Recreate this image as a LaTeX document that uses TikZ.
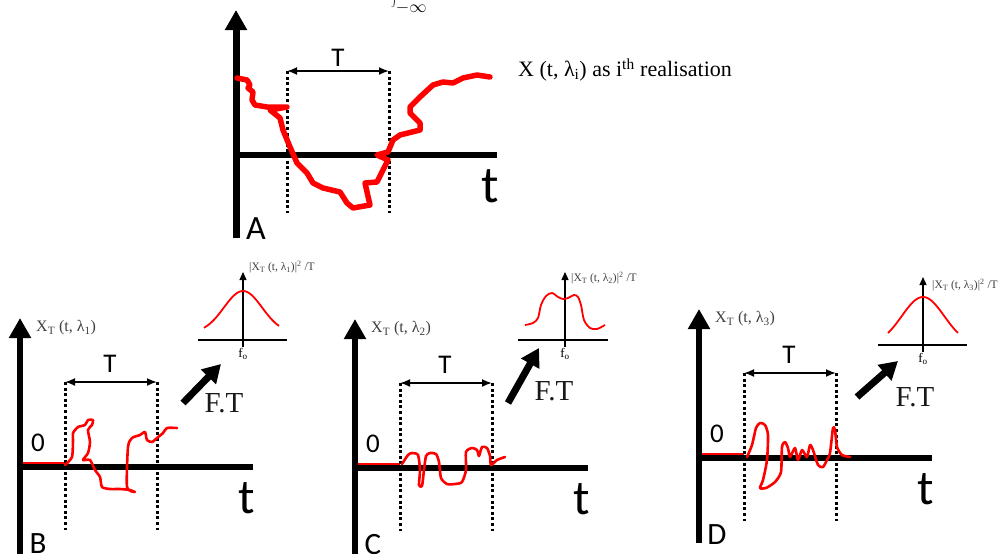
\documentclass[tikz,border=0pt]{standalone}
\usepackage{fontspec}
\setmainfont{Liberation Serif}
\newfontfamily\calfont{Carlito}
\usetikzlibrary{arrows.meta}

\begin{document}
\begin{tikzpicture}[x=1pt,y=-1pt,>=Latex,
  axis/.style={line width=6pt,-{Triangle[width=21pt,length=20pt]}},
  taxis/.style={line width=6pt},
  window/.style={line width=3pt,dash pattern=on 3pt off 2.6pt},
  tdim/.style={line width=1.8pt,{Latex[length=10pt,width=8pt]}-{Latex[length=10pt,width=8pt]}},
  sig/.style={red,line width=2.6pt,line join=round,line cap=round},
  ftarrow/.style={line width=7pt,-{Triangle[width=20pt,length=18pt]}},
  spec/.style={line width=1.2pt},
  specaxis/.style={line width=1.2pt,-{Triangle[width=7pt,length=8pt]}},
  speccurve/.style={red,line width=1.8pt,line join=round},
  lbl/.style={font=\calfont\fontsize{27}{27}\selectfont,inner sep=0pt},
  letter/.style={font=\calfont\fontsize{31}{31}\selectfont,inner sep=0pt},
  tlbl/.style={font=\calfont\fontsize{49}{49}\selectfont,inner sep=0pt},
  xlbl/.style={font=\fontsize{16}{16}\selectfont,text=black!75,inner sep=0pt,anchor=west},
  slbl/.style={font=\fontsize{11.5}{11.5}\selectfont,text=black!75,inner sep=0pt,anchor=west},
  ftlbl/.style={font=\fontsize{29}{29}\selectfont,text=black!90,inner sep=0pt},
  flbl/.style={font=\fontsize{13}{13}\selectfont,inner sep=0pt}]
  \useasboundingbox (0,0) rectangle (999,554);

  % cut-off formula at the top
  \node[anchor=south west,inner sep=0pt] (frag) at (391,14) {\fontsize{24}{24}\selectfont$\int_{-\infty}$};

  % Panel A: one realisation
  \coordinate (A-o) at (236,155);
  \coordinate (A-top) at (236,10);
  \coordinate (A-bot) at (236,238);
  \coordinate (A-end) at (497,155);
  \coordinate (A-w1) at (287,71);
  \coordinate (A-w2) at (389,71);
  \coordinate (A-w1b) at (287,213);
  \coordinate (A-w2b) at (389,213);
  \draw[axis,line width=7pt] (A-bot) -- (A-top);
  \draw[taxis] (A-o) -- (A-end);
  \draw[window] (A-w1) -- (A-w1b);
  \draw[window] (A-w2) -- (A-w2b);
  \draw[tdim] (A-w1) -- (A-w2);
  \node[lbl] (A-T) at (338,58) {T};
  \node[tlbl,font=\calfont\fontsize{52}{52}\selectfont] (A-t) at (490,186) {t};
  \node[letter,font=\calfont\fontsize{34}{34}\selectfont] (A-name) at (256,229) {A};
  \node[anchor=west,inner sep=0pt,font=\fontsize{22}{22}\selectfont] (A-lab) at (518,70)
    {X (t, λ\textsubscript{i}) as i\textsuperscript{th} realisation};
  \draw[sig,line width=5.5pt] plot coordinates {(237,78) (247,80) (250,85) (248,88) (253,92) (252,100)
    (255,105) (267,107) (287,107) (270,110) (280,118) (283,130) (290,147) (297,163) (307,173)
    (313,183) (323,188) (340,192) (347,203) (353,208) (370,205) (365,183) (377,182) (383,170)
    (388,160) (377,155) (388,152) (393,140) (400,135) (420,130) (420,123) (410,113) (410,107)
    (420,97) (433,85) (443,82) (453,83) (463,78) (477,75) (490,77)};

  % Panels B, C, D: truncated realisations
  \foreach \p/\ox/\oy/\k/\bot in {B/20/467/1/87,C/355/468/2/87,D/699/458/3/85}{
    \begin{scope}[shift={(\ox,\oy)}]
      \coordinate (\p-o) at (0,0);
      \coordinate (\p-top) at (0,-149);
      \coordinate (\p-bot) at (0,\bot);
      \coordinate (\p-end) at (233,0);
      \coordinate (\p-zs) at (0,-4);
      \coordinate (\p-z) at (45,-4);
      \coordinate (\p-w1) at (45,-85);
      \coordinate (\p-w2) at (137,-85);
      \coordinate (\p-w1b) at (45,63);
      \coordinate (\p-w2b) at (137,63);
      \draw[sig,line width=3pt,line cap=butt] (\p-zs) -- (\p-z);
      \draw[axis] (\p-bot) -- (\p-top);
      \draw[taxis] (\p-o) -- (\p-end);
      \draw[window] (\p-w1) -- (\p-w1b);
      \draw[window] (\p-w2) -- (\p-w2b);
      \draw[tdim] (\p-w1) -- (\p-w2);
      \node[lbl] (\p-T) at (90,-103) {T};
      \node[lbl] (\p-0) at (18,-24) {0};
      \node[tlbl] (\p-t) at (227,31) {t};
      \node[letter] (\p-name) at (18,77) {\p};
      \node[xlbl] (\p-x) at (16,-139) {X\textsubscript{T} (t, λ\textsubscript{\k})};
    \end{scope}
  }

  \draw[sig] plot[smooth,tension=0.4] coordinates {(65,465) (72,457) (73,440) (73,433) (78,427)
    (85,425) (88,420) (93,420) (92,425) (88,430) (90,442) (88,453) (83,460) (90,460) (95,470)
    (100,477) (102,487) (110,489) (120,489) (130,490) (135,492) (127,487) (128,447) (132,438)
    (140,435) (145,432) (147,440) (152,442) (157,438) (163,433) (167,428) (177,428)};
  \draw[sig] plot[smooth,tension=0.4] coordinates {(402,464) (408,455) (412,453) (418,455)
    (420,470) (419,485) (422,486) (424,470) (426,456) (430,453) (436,454) (439,462) (441,478)
    (447,484) (455,484) (462,482) (466,470) (466,452) (472,448) (477,450) (479,456) (482,447)
    (487,448) (490,456) (491,465) (497,460) (505,457)};
  \draw[sig] plot[smooth,tension=0.4] coordinates {(747,457) (752,445) (756,428) (760,423)
    (765,425) (768,435) (767,460) (763,480) (760,488) (766,488) (775,482) (781,472) (782,447)
    (785,442) (788,448) (790,457) (795,448) (798,460) (802,450) (807,457) (810,445) (813,450)
    (818,465) (823,467) (827,460) (830,453) (833,428) (835,430) (837,447) (842,455) (850,457)};

  % Fourier transforms
  \coordinate (B-fs) at (183,403);
  \coordinate (B-fe) at (221,364);
  \draw[ftarrow] (B-fs) -- (B-fe);
  \node[ftlbl] (B-ft) at (224,403) {F.T};
  \coordinate (sB-l) at (198,340);
  \coordinate (sB-r) at (287,340);
  \coordinate (sB-b) at (243,347);
  \coordinate (sB-t) at (243,272);
  \draw[spec] (sB-l) -- (sB-r);
  \draw[specaxis] (sB-b) -- (sB-t);
  \draw[speccurve,domain=-39:36,samples=50] plot ({243+\x},{333-42*exp(-(\x/27)^2)});
  \node[slbl] (sB-lab) at (249,267) {|X\textsubscript{T} (t, λ\textsubscript{1})|\textsuperscript{2} /T};
  \node[flbl] (sB-f) at (243,354) {f\textsubscript{o}};

  \coordinate (C-fs) at (508,403);
  \coordinate (C-fe) at (539,348);
  \draw[ftarrow] (C-fs) -- (C-fe);
  \node[ftlbl] (C-ft) at (554,391) {F.T};
  \coordinate (sC-l) at (518,340);
  \coordinate (sC-r) at (608,340);
  \coordinate (sC-b) at (565,347);
  \coordinate (sC-t) at (565,272);
  \draw[spec] (sC-l) -- (sC-r);
  \draw[specaxis] (sC-b) -- (sC-t);
  \draw[speccurve] plot[smooth,tension=0.5] coordinates {(525,325) (533,323) (538,318) (541,305)
    (546,296) (552,293) (558,297) (563,299) (568,298) (574,295) (578,297) (581,305) (584,320)
    (590,328) (597,329) (605,325)};
  \node[slbl] (sC-lab) at (571,278) {|X\textsubscript{T} (t, λ\textsubscript{2})|\textsuperscript{2} /T};
  \node[flbl] (sC-f) at (565,354) {f\textsubscript{o}};

  \coordinate (D-fs) at (857,397);
  \coordinate (D-fe) at (898,361);
  \draw[ftarrow] (D-fs) -- (D-fe);
  \node[ftlbl] (D-ft) at (915,397) {F.T};
  \coordinate (sD-l) at (878,345);
  \coordinate (sD-r) at (967,345);
  \coordinate (sD-b) at (923,352);
  \coordinate (sD-t) at (923,277);
  \draw[spec] (sD-l) -- (sD-r);
  \draw[specaxis] (sD-b) -- (sD-t);
  \draw[speccurve,domain=-35:35,samples=50] plot ({923+\x},{297+36*(1-exp(-(\x/30)^2))/0.744});
  \node[slbl] (sD-lab) at (932,285) {|X\textsubscript{T} (t, λ\textsubscript{3})|\textsuperscript{2} /T};
  \node[flbl] (sD-f) at (923,359) {f\textsubscript{o}};
\end{tikzpicture}
\end{document}
